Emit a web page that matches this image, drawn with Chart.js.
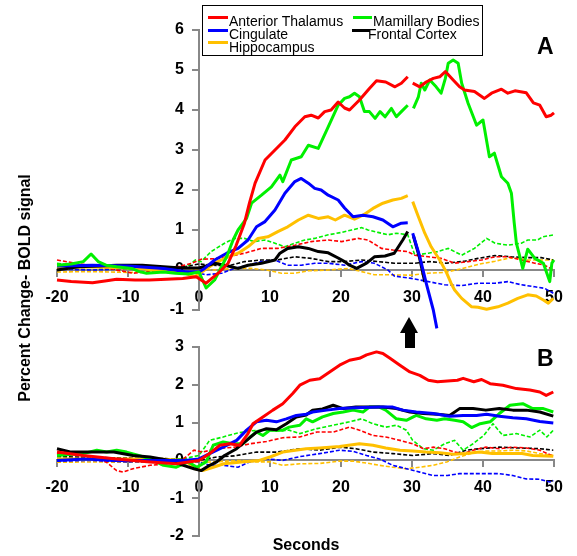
<!DOCTYPE html>
<html><head><meta charset="utf-8">
<script src="https://cdn.jsdelivr.net/npm/chart.js@4"></script>
<style>
html,body{margin:0;padding:0;background:#fff;}
#wrap{position:relative;width:577px;height:556px;overflow:hidden;font-family:"Liberation Sans",Arial,sans-serif;color:#000;}
canvas{position:absolute;left:0;top:0;}
.lg{position:absolute;left:202px;top:5px;width:279px;height:49px;border:1px solid #000;background:#fff;}
.ln{position:absolute;height:3px;}
.tx{position:absolute;font-size:14px;line-height:14px;white-space:nowrap;}
.big{position:absolute;font-weight:bold;font-size:23px;line-height:23px;}
</style></head><body>
<div id="wrap">
<canvas id="cA" width="577" height="556"></canvas>
<canvas id="cB" width="577" height="556"></canvas>
<div class="lg"></div>
<div class="ln" style="left:208px;top:16px;width:20px;background:#FF0000"></div>
<div class="tx" style="left:229px;top:14px">Anterior Thalamus</div>
<div class="ln" style="left:208px;top:29px;width:20px;background:#0000FF"></div>
<div class="tx" style="left:229px;top:27px">Cingulate</div>
<div class="ln" style="left:208px;top:41px;width:20px;background:#FFC000"></div>
<div class="tx" style="left:229px;top:40px">Hippocampus</div>
<div class="ln" style="left:353px;top:16px;width:19px;background:#00F000"></div>
<div class="tx" style="left:373px;top:14px">Mamillary Bodies</div>
<div class="ln" style="left:352px;top:29px;width:18px;background:#000000"></div>
<div class="tx" style="left:368px;top:27px">Frontal Cortex</div>
<div class="big" style="left:537px;top:35px">A</div>
<div class="big" style="left:537px;top:347px">B</div>
<div style="position:absolute;left:400px;top:317px;width:0;height:0;border-left:9.5px solid transparent;border-right:9.5px solid transparent;border-bottom:16px solid #000;"></div>
<div style="position:absolute;left:405px;top:332px;width:10px;height:16px;background:#000;"></div>
<div style="position:absolute;left:-125px;top:278px;width:300px;text-align:center;font-weight:bold;font-size:16px;line-height:20px;transform:rotate(-90deg);">Percent Change- BOLD signal</div>
<div style="position:absolute;left:256px;top:535px;width:100px;text-align:center;font-weight:bold;font-size:16px;line-height:20px;">Seconds</div>
</div>
<script>
// ---- tick labels ----
const xTicks = [-20, -10, 0, 10, 20, 30, 40, 50];
const yTicksA = [-1, 0, 1, 2, 3, 4, 5, 6];
const yTicksB = [-2, -1, 0, 1, 2, 3];

// ---- series names ----
const regions = ['Anterior Thalamus', 'Cingulate', 'Hippocampus', 'Mamillary Bodies', 'Frontal Cortex'];

// ---- Panel A, solid lines (null = break at 30 s) ----
const redA_t = [-20,-18,-15,-13,-11.6,-9,-7,-4.6,-2.3,-0.4,1.0,2.7,4.1,5.2,6.4,7.1,7.9,9.3,10.7,12.1,13.5,14.9,15.8,16.8,17.7,18.6,19.6,20.5,21.2,22.6,24.0,25.0,26.3,27.6,28.5,29.4,30,30.1,31.1,32.0,33.0,33.9,34.7,35.8,36.7,37.4,38.8,40.2,41.2,42.6,43.5,44.5,46.1,47.1,48.0,48.9,49.6,50];
const redA_v = [-0.25,-0.29,-0.32,-0.27,-0.23,-0.25,-0.25,-0.23,-0.21,-0.17,-0.33,-0.08,0.17,0.6,1.17,1.67,2.17,2.75,3.0,3.25,3.58,3.83,3.87,3.8,3.96,4.0,4.2,4.05,4.0,4.25,4.54,4.73,4.7,4.58,4.67,4.83,null,4.67,4.58,4.7,4.79,4.83,4.96,4.75,4.58,4.5,4.46,4.29,4.42,4.52,4.42,4.48,4.43,4.18,4.12,3.83,3.87,3.93];

const greenA_t = [-20,-18,-16.3,-15.2,-14.2,-13.1,-11.6,-9.5,-8.4,-7.4,-5,-3.3,-1.5,0,1.0,2.2,3.9,4.8,5.5,6.7,7.4,8.8,10.2,11.4,11.8,13.0,14.4,15.4,16.8,18.2,19.6,20.5,21.2,21.9,22.6,23.3,24.0,24.8,25.5,26.2,27.1,27.8,28.5,29.4,30,30.2,30.9,31.3,31.8,32.5,33.4,34.1,34.7,35.1,35.8,36.5,37.0,37.9,39.1,40.0,40.9,41.6,42.6,43.5,44.0,44.4,44.7,45.2,45.6,46.3,47.3,48.5,49.4,49.7,50];
const greenA_v = [0.12,0.15,0.21,0.4,0.21,0.12,0.08,0.04,-0.04,-0.08,-0.05,-0.08,-0.1,-0.05,-0.45,-0.25,0.33,0.75,1.0,1.29,1.67,1.87,2.08,2.37,2.21,2.75,2.83,3.12,3.04,3.58,4.12,4.29,4.33,4.42,4.33,3.96,3.96,3.79,3.96,3.83,4.04,3.83,3.96,4.12,null,4.04,4.33,4.67,4.5,4.75,4.58,4.42,4.79,5.17,5.25,5.17,4.67,4.17,3.62,3.75,2.83,2.92,2.33,2.17,1.92,1.17,0.67,0.33,0.04,0.52,0.29,0.17,-0.29,0.17,0.25];

const blueA_t = [-20,-15,-10,-5,-2,0,0.8,2.2,3.9,5.5,6.9,8.1,9.3,10.7,12.1,13.5,14.4,15.4,16.3,17.2,18.2,19.6,20.5,21.7,23.1,24.5,25.9,27.3,28.5,29.4,30,30.1,31.1,32.0,33.0,33.5];
const blueA_v = [0.1,0.12,0.1,0.04,-0.04,-0.05,0.04,0.25,0.42,0.54,0.75,1.08,1.21,1.5,1.92,2.21,2.29,2.17,2.04,2.0,1.87,1.75,1.55,1.33,1.37,1.33,1.25,1.08,1.17,1.18,null,0.92,0.33,-0.33,-1.0,-1.46];

const blackA_t = [-20,-17,-14,-11.6,-8,-5,-2.5,0,1,2.2,4.1,5.5,6.9,8.8,10.7,11.4,12.5,14.0,15.4,16.8,18.2,19.6,20.5,21.2,22.2,23.6,24.7,26.2,27.5,28.7,29.4,30,30.2,31.0,31.8];
const blackA_v = [0.0,0.08,0.1,0.12,0.12,0.08,0.05,0.05,0.1,0.17,0.1,0.04,0.12,0.17,0.25,0.42,0.54,0.58,0.54,0.46,0.43,0.3,0.21,0.12,0.04,0.17,0.33,0.35,0.42,0.75,0.96,null,0.85,0.35,-0.3];

const yellowA_t = [-20,-16,-13,-8,-4.5,-2,-0.6,0.8,2.2,4.1,5.5,6.9,8.3,9.7,11.1,12.5,14.0,15.4,16.8,18.2,19.2,20.5,21.9,23.1,24.5,25.9,27.3,28.5,29.4,30,30.1,30.9,31.8,32.7,33.9,34.8,35.5,36.0,37.0,38.4,39.3,40.5,42.1,43.5,44.9,46.3,47.5,48.5,49.2,49.9];
const yellowA_v = [0.04,0.08,0.07,0.03,-0.04,-0.08,-0.17,0.0,0.17,0.33,0.42,0.58,0.79,0.83,0.96,1.08,1.25,1.37,1.29,1.33,1.25,1.37,1.27,1.37,1.54,1.67,1.75,1.79,1.86,null,1.71,1.33,0.92,0.58,0.25,-0.04,-0.33,-0.5,-0.71,-0.92,-0.93,-0.98,-0.92,-0.83,-0.71,-0.62,-0.65,-0.75,-0.83,-0.71];

// ---- Panel A, dashed lines ----
const redDA_t = [-20,-17.4,-13,-9.3,-7,-3,-1,0.3,2,4.1,6.4,8.8,11.1,13.5,15.8,18.2,20.1,22.4,23.8,25.7,27.3,29.4,30.4,32.3,34.1,36.0,37.9,39.8,41.7,43.5,45.4,47.3,48.7,49.9];
const redDA_v = [0.25,0.17,0.05,-0.08,-0.04,0.08,0.17,0.27,0.28,0.33,0.42,0.54,0.54,0.62,0.71,0.75,0.71,0.79,0.75,0.54,0.5,0.46,0.37,0.33,0.29,0.17,0.21,0.25,0.33,0.33,0.25,0.17,0.12,0.0];

const greenDA_t = [-20,-17,-13,-10,-6,-2,-0.5,0.3,1.7,3.6,5.0,6.4,7.8,9.3,10.7,12.1,13.5,14.9,16.3,18.2,20.1,21.5,22.9,23.8,25.2,26.6,27.8,29.4,30.4,32.3,33.6,35.1,37.0,38.8,40.5,41.7,43.5,45.4,46.3,47.7,48.4,50];
const greenDA_v = [0.17,0.08,0.06,0.04,0.04,0.05,0.25,0.21,0.46,0.67,0.79,0.79,0.71,0.75,0.67,0.58,0.67,0.75,0.79,0.88,0.94,1.0,1.06,1.0,0.94,0.88,0.92,0.88,0.37,0.42,0.46,0.54,0.37,0.54,0.79,0.67,0.62,0.67,0.75,0.75,0.83,0.88];

const blueDA_t = [-20,-15,-10,-5,-2,0,1.0,3.2,5.0,6.9,8.8,10.7,12.5,14.4,16.3,18.2,20.5,22.9,24.7,26.6,27.5,29.9,32.3,34.6,37,39.3,41.7,43.5,45.4,47.3,48.7,49.9];
const blueDA_v = [0.02,0.0,0.03,0.0,-0.03,-0.08,-0.12,-0.08,0.04,0.12,0.21,0.25,0.12,0.12,0.17,0.17,0.12,0.21,0.17,0.0,-0.15,-0.21,-0.29,-0.37,-0.39,-0.33,-0.33,-0.29,-0.37,-0.42,-0.46,-0.58];

const blackDA_t = [-20,-15,-10,-5,-2,0,2,4,6.4,8.8,11,13.5,15.8,18.2,20.5,22.9,25.2,27.5,30.4,32.5,34.8,37.4,39.3,41.7,44,46.3,48.2,49.9];
const blackDA_v = [0.05,0.07,0.05,0.05,0.08,0.15,0.12,0.1,0.21,0.25,0.25,0.33,0.29,0.21,0.21,0.25,0.21,0.17,0.17,0.21,0.17,0.22,0.29,0.36,0.33,0.31,0.31,0.25];

const yellowDA_t = [-20,-15,-10,-5,-2,0,2,5,7.3,9.5,11.6,13.5,15.4,18.2,21,22.9,24.7,26.6,29.9,32.3,34.6,37,39.3,41.7,44,46.3,48.2,49.9];
const yellowDA_v = [-0.05,-0.04,-0.06,-0.05,-0.04,0.04,0.0,0.04,0.04,0.0,-0.08,-0.08,-0.02,0.0,0.04,-0.04,-0.12,-0.12,-0.13,-0.08,-0.06,0.03,0.14,0.22,0.31,0.25,0.25,0.25];

// ---- Panel B, solid lines ----
const redB_t = [-20,-16.3,-11.6,-6.9,-3.2,0,1.5,2.9,4.3,5.7,6.9,7.6,9.0,10.4,11.8,13.2,14.2,15.6,17,18.4,19.8,21.2,22.6,23.6,25,25.9,26.9,28.3,29.7,31.1,32.3,33.6,35,36.4,37.2,38.7,39.8,41,42.8,44.7,46.6,48,48.9,49.9];
const redB_v = [0.22,0.13,0.04,-0.04,-0.09,0.0,0.18,0.4,0.44,0.4,0.71,0.97,1.15,1.33,1.5,1.77,1.99,2.12,2.16,2.34,2.52,2.65,2.7,2.79,2.87,2.83,2.7,2.52,2.34,2.25,2.12,2.08,2.1,2.12,2.17,2.08,2.14,2.03,1.99,1.9,1.86,1.81,1.72,1.81];

const greenB_t = [-20,-16.3,-14.4,-13,-11.6,-10.2,-8.5,-6.9,-5,-3.2,-1.5,-0.3,1,2,3.4,4.8,6.2,7.2,8.1,9,10,11.8,12.7,14.2,15.1,16,17.4,18.9,20.3,21.7,23.1,24,25.4,26.3,27.8,29.2,30.6,32,33.5,34.6,36,37.2,38.4,39.6,41,42.3,43.8,45.6,47,48.5,49.9];
const greenB_v = [0.13,0.18,0.27,0.22,0.27,0.22,0.13,0.04,-0.13,-0.18,-0.04,-0.18,-0.04,0.4,0.49,0.44,0.44,0.62,0.75,0.66,0.8,0.8,0.88,0.93,1.1,1.02,1.15,1.24,1.28,1.33,1.28,1.41,1.41,1.33,1.1,1.06,1.19,1.1,1.06,1.1,1.06,1.02,0.87,0.97,1.02,1.24,1.46,1.5,1.37,1.37,1.28];

const blueB_t = [-20,-16,-12,-7,-2,0,1.5,3.4,5.3,6.7,8.1,9.5,10.9,12.3,13.7,15.1,16,18,19.8,22,25.4,27.3,28.7,30.6,33,35.3,37.2,39.1,40.5,42.3,44.2,46.1,48,49.9];
const blueB_v = [0.0,0.04,0.0,0.0,0.0,0.04,0.18,0.35,0.53,0.8,1.02,1.06,1.02,1.1,1.19,1.22,1.28,1.33,1.37,1.39,1.41,1.41,1.33,1.28,1.24,1.17,1.19,1.19,1.22,1.17,1.13,1.1,1.03,0.99];

const blackB_t = [-20,-18,-15.5,-12,-9.3,-6.9,-4.1,-2.2,-0.7,0.3,1.5,2.5,3.6,5.3,6.7,8.1,9.5,10.9,12.3,13.7,15.1,16,17.4,18.9,20.3,22.1,24,25.9,27.8,29.7,31.6,33.6,35.3,36.7,38.6,40.4,42.3,44.2,46.1,48,49.9];
const blackB_v = [0.31,0.22,0.22,0.22,0.13,0.09,0.0,-0.13,-0.22,-0.27,-0.13,-0.04,0.13,0.31,0.53,0.75,0.84,0.81,0.97,1.15,1.2,1.33,1.36,1.46,1.37,1.41,1.41,1.41,1.37,1.28,1.24,1.22,1.19,1.37,1.37,1.33,1.37,1.33,1.33,1.28,1.17];

const yellowB_t = [-20,-15,-10,-5,-2,-0.5,0.5,2,3.5,6,8.5,10,11.8,15.1,17,19.8,22.6,24.5,26.3,28.3,30.1,32,33.9,35.8,37.6,39.5,41.3,43.5,45.5,47,49.9];
const yellowB_v = [0.04,0.04,0.04,0.03,0.0,-0.22,-0.27,-0.18,-0.09,-0.04,0.0,0.09,0.22,0.31,0.33,0.37,0.44,0.4,0.33,0.27,0.25,0.22,0.2,0.16,0.18,0.22,0.18,0.18,0.18,0.13,0.11];

// ---- Panel B, dashed lines ----
const redDB_t = [-20,-16.3,-13.1,-11.6,-10.7,-9.3,-6.9,-4.6,-2.2,-0.7,0.5,2.5,5,7.2,9.5,11.8,14.2,16.6,18.9,21.2,22.6,24.5,26.3,28.3,30.1,31.6,33,34.6,36,37.2,38.6,40.4,42.3,44.2,46.1,48,49.9];
const redDB_v = [0.18,0.13,-0.04,-0.27,-0.31,-0.22,-0.13,-0.09,0.04,0.27,0.22,0.31,0.35,0.44,0.5,0.6,0.62,0.75,0.75,0.88,0.8,0.66,0.62,0.53,0.44,0.31,0.35,0.31,0.22,0.18,0.27,0.35,0.31,0.35,0.33,0.27,0.11];

const greenDB_t = [-20,-15,-10,-5,-2,0,1.5,3.4,5.3,7.2,9,11,12.7,14.2,16.6,18.9,21.2,22.9,24.5,26.3,27.8,29.2,30.1,31.6,33,34.6,36,37.2,38.6,40.1,41.4,42.8,44.7,46.6,48,49,49.9];
const greenDB_v = [0.0,0.02,0.0,0.02,0.05,0.13,0.53,0.62,0.72,0.78,0.8,0.78,0.8,0.71,0.84,0.93,1.02,1.1,0.97,0.88,0.93,0.8,0.53,0.31,0.27,0.44,0.53,0.27,0.44,0.66,0.97,0.66,0.71,0.62,0.8,0.62,0.8];

const blueDB_t = [-20,-15,-10,-5,-2,0,1.5,3.5,5.5,7,9.5,11.8,14.2,17,19.8,21.7,23.6,25.4,27.3,29.2,31.1,33,35,36.7,38.5,40.5,42.3,44.2,46.1,48,49.4,49.9];
const blueDB_v = [-0.02,0.0,-0.04,-0.02,0.0,-0.04,-0.13,-0.13,-0.18,-0.05,0.04,0.0,0.1,0.18,0.27,0.24,0.13,0.04,-0.13,-0.22,-0.31,-0.4,-0.4,-0.35,-0.35,-0.35,-0.35,-0.4,-0.49,-0.5,-0.57,-0.53];

const blackDB_t = [-20,-15,-10,-5,-2,0,2.5,5,8.1,11,14.2,17,19.8,22.1,24.5,27.3,30.1,33,35.3,37.6,39.5,42.3,45,48,49.9];
const blackDB_v = [0.1,0.08,0.06,0.05,0.03,0.0,0.09,0.12,0.22,0.22,0.31,0.27,0.35,0.31,0.22,0.18,0.13,0.18,0.13,0.27,0.31,0.35,0.33,0.31,0.27];

const yellowDB_t = [-20,-15,-10,-5,-2,0,2,4,6,8,10,11.8,14.2,17,19.8,21.7,23.6,25.4,27.3,29.2,31.1,33,34.9,36.7,38.6,40.4,42.3,44.2,46.1,48,49.9];
const yellowDB_v = [-0.05,-0.04,-0.05,-0.05,-0.04,-0.05,-0.04,-0.02,0.0,-0.04,-0.04,-0.13,-0.09,-0.08,-0.02,-0.02,-0.07,-0.13,-0.18,-0.22,-0.18,-0.13,-0.04,0.09,0.2,0.25,0.25,0.27,0.25,0.18,0.13];

// ---- styling ----
const COL = {red:'#FF0000', green:'#00F000', blue:'#0000FF', yellow:'#FFC000', black:'#000000'};
const FONT = "'Liberation Sans', Arial, sans-serif";
const LABEL_X = -2.11; // seconds: where the y tick labels end (just left of the y axis)

function pts(t, v) {
  const n = Math.min(t.length, v.length);
  const out = [];
  for (let i = 0; i < n; i++) out.push({x: t[i], y: v[i]});
  return out;
}
function solid(label, t, v, c) {
  return {label, data: pts(t, v), borderColor: c, backgroundColor: c, borderWidth: 3,
    pointRadius: 0, fill: false, spanGaps: false, clip: false, tension: 0, borderJoinStyle: 'round'};
}
function dashed(label, t, v, c) {
  return {label, data: pts(t, v), borderColor: c, backgroundColor: c, borderWidth: 1.6,
    borderDash: [4, 2], pointRadius: 0, fill: false, clip: false, tension: 0};
}
function axisCommon(tickArr, pad) {
  return {
    type: 'linear',
    afterBuildTicks: s => { s.ticks = tickArr.map(v => ({value: v})); },
    ticks: {font: {family: FONT, size: 16, weight: 'bold'}, color: '#000', padding: pad,
            autoSkip: false, maxRotation: 0, minRotation: 0},
    grid: {display: true, drawOnChartArea: false, drawTicks: true, tickLength: 6,
           color: '#888', tickColor: '#888', lineWidth: 2},
    border: {display: true, color: '#888', width: 2}
  };
}
function makeChart(id, yMin, yMax, yTicks, padding, sets) {
  const xs = Object.assign(axisCommon(xTicks, 12), {min: -20, max: 50, position: {y: 0}});
  const ys = Object.assign(axisCommon(yTicks, 9), {min: yMin, max: yMax, position: {x: 0}});
  ys.ticks = Object.assign({}, ys.ticks, {display: false});
  const yl = Object.assign(axisCommon(yTicks, 0), {min: yMin, max: yMax, position: {x: LABEL_X}, axis: 'y'});
  yl.grid = {display: false};
  yl.border = {display: false};
  return new Chart(document.getElementById(id), {
    type: 'line',
    data: {datasets: sets},
    options: {
      responsive: false, animation: false, devicePixelRatio: 1,
      layout: {padding},
      plugins: {legend: {display: false}, tooltip: {enabled: false}},
      scales: {x: xs, y: ys, yLabels: yl}
    }
  });
}

makeChart('cA', -1, 6, yTicksA, {left: 57, right: 23, top: 30, bottom: 246}, [
  solid(regions[0], redA_t, redA_v, COL.red),
  solid(regions[3], greenA_t, greenA_v, COL.green),
  solid(regions[1], blueA_t, blueA_v, COL.blue),
  solid(regions[4], blackA_t, blackA_v, COL.black),
  solid(regions[2], yellowA_t, yellowA_v, COL.yellow),
  dashed(regions[0], redDA_t, redDA_v, COL.red),
  dashed(regions[3], greenDA_t, greenDA_v, COL.green),
  dashed(regions[1], blueDA_t, blueDA_v, COL.blue),
  dashed(regions[4], blackDA_t, blackDA_v, COL.black),
  dashed(regions[2], yellowDA_t, yellowDA_v, COL.yellow)
]);

makeChart('cB', -2, 3, yTicksB, {left: 57, right: 23, top: 347, bottom: 20}, [
  solid(regions[0], redB_t, redB_v, COL.red),
  solid(regions[1], blueB_t, blueB_v, COL.blue),
  solid(regions[4], blackB_t, blackB_v, COL.black),
  solid(regions[3], greenB_t, greenB_v, COL.green),
  solid(regions[2], yellowB_t, yellowB_v, COL.yellow),
  dashed(regions[0], redDB_t, redDB_v, COL.red),
  dashed(regions[3], greenDB_t, greenDB_v, COL.green),
  dashed(regions[1], blueDB_t, blueDB_v, COL.blue),
  dashed(regions[4], blackDB_t, blackDB_v, COL.black),
  dashed(regions[2], yellowDB_t, yellowDB_v, COL.yellow)
]);
</script>
</body></html>
